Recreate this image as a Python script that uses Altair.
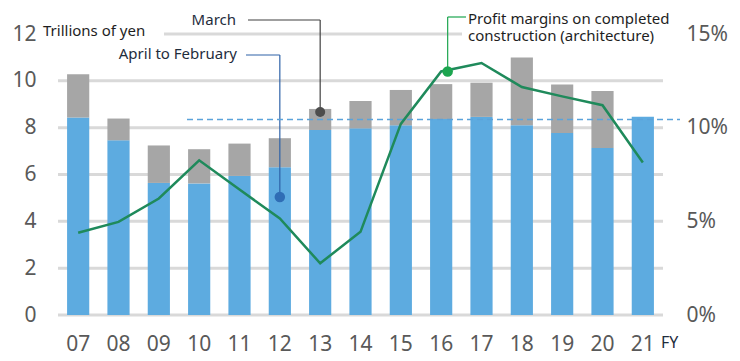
import altair as alt
import pandas as pd

# ---------------- data ----------------
fy = ["07", "08", "09", "10", "11", "12", "13", "14", "15", "16", "17", "18", "19", "20", "21"]
apr_feb = [8.43, 7.46, 5.64, 5.62, 5.94, 6.31, 7.90, 7.97, 8.10, 8.37, 8.46, 8.10, 7.77, 7.13, 8.47]
march = [1.85, 0.93, 1.60, 1.46, 1.38, 1.24, 0.90, 1.17, 1.51, 1.49, 1.46, 2.90, 2.07, 2.44, 0.0]
margin = [4.39, 4.97, 6.22, 8.26, 6.70, 5.15, 2.76, 4.44, 10.2, 13.0, 13.45, 12.17, 11.67, 11.2, 8.14]
left_ticks = [0, 2, 4, 6, 8, 10, 12]
right_ticks = [0, 5, 10, 15]
ref_margin = 10.43
parts = ["April to February", "March"]

# annotation anchors
march_anchor = {"fy": ["13"], "v": [8.67]}
aprfeb_anchor = {"fy": ["12"], "v": [5.04]}
margin_anchor = {"fy": ["16"], "v": [13.0]}

BLUE = "#5DABE0"
GRAY = "#A6A6A6"
GREEN_LINE = "#1F8A5B"
GREEN_DOT = "#1CA54F"
GRID = "#D9D9D9"
LBL = "#595959"
FONT = "Noto Sans"

rows = []
for i, f in enumerate(fy):
    rows.append({"fy": f, "part": parts[0], "value": apr_feb[i], "ord": 0})
    rows.append({"fy": f, "part": parts[1], "value": march[i], "ord": 1})
bars_df = pd.DataFrame(rows)
line_df = pd.DataFrame({"fy": fy, "margin": margin})

x_scale = alt.Scale(paddingInner=0.45, paddingOuter=0.225)
x_axis = alt.Axis(title=None, labelAngle=0, domain=False, ticks=False, grid=False,
                  labelFontSize=21, labelColor=LBL, labelPadding=18, labelFont=FONT)


def xenc():
    return alt.X("fy:N", sort=fy, scale=x_scale, axis=x_axis)


left_scale = alt.Scale(domain=[0, 12], nice=False)
left_axis = alt.Axis(title=None, values=left_ticks, domain=False, ticks=False, grid=False,
                     labelFontSize=21, labelColor=LBL, labelPadding=22, labelFont=FONT)
right_scale = alt.Scale(domain=[0, 15], nice=False)
right_axis = alt.Axis(title=None, orient="right", values=right_ticks, labelExpr="datum.value + '%'",
                      domain=False, ticks=False, grid=False,
                      labelFontSize=21, labelColor=LBL, labelPadding=23, labelFont=FONT)


def yl(field):
    return alt.Y(field, scale=left_scale, axis=left_axis)


def yr(field):
    return alt.Y(field, scale=right_scale, axis=right_axis)


# ---------------- left-scale layers ----------------
grid = alt.Chart(pd.DataFrame({"v": left_ticks[:-1]})).mark_rule(color=GRID, strokeWidth=3).encode(
    y=yl("v:Q"), x=alt.value(0), x2=alt.value(605))
grid12 = alt.Chart(pd.DataFrame({"v": left_ticks[-1:]})).mark_rule(color=GRID, strokeWidth=3).encode(
    y=yl("v:Q"), x=alt.value(106), x2=alt.value(404))

bars = alt.Chart(bars_df).mark_bar().encode(
    x=xenc(),
    y=alt.Y("value:Q", stack="zero", scale=left_scale, axis=left_axis),
    color=alt.Color("part:N", scale=alt.Scale(domain=parts, range=[BLUE, GRAY]), legend=None),
    order=alt.Order("ord:Q"),
)

march_df = pd.DataFrame(march_anchor)
march_v = alt.Chart(march_df).mark_rule(color="#404040", strokeWidth=1.2).encode(
    x=xenc(), y=yl("v:Q"), y2=alt.value(-14))
march_h = alt.Chart(march_df).mark_rule(color="#404040", strokeWidth=1.2).encode(
    x=xenc(), x2=alt.value(190), y=alt.value(-14))
march_dot = alt.Chart(march_df).mark_circle(color="#4D4D4D", size=100, opacity=1).encode(
    x=xenc(), y=yl("v:Q"))

af_df = pd.DataFrame(aprfeb_anchor)
af_v = alt.Chart(af_df).mark_rule(color="#2E62A8", strokeWidth=1.2).encode(
    x=xenc(), y=yl("v:Q"), y2=alt.value(21))
af_h = alt.Chart(af_df).mark_rule(color="#2E62A8", strokeWidth=1.2).encode(
    x=xenc(), x2=alt.value(188), y=alt.value(21))
af_dot = alt.Chart(af_df).mark_circle(color="#2F6DB5", size=110, opacity=1).encode(
    x=xenc(), y=yl("v:Q"))


def label(text, x, y, align="left", size=15, color="#1E1E1E", **kw):
    return alt.Chart(pd.DataFrame({"t": [text]})).mark_text(
        align=align, baseline="middle", fontSize=size, font=FONT, color=color, **kw
    ).encode(text="t:N", x=alt.value(x), y=alt.value(y))


t_unit = label("Trillions of yen", -15, -3)
t_march = label("March", 178, -14, align="right", color="#1F2D3D")
t_af = label("April to February", 179, 20, align="right", color="#1F2D3D")
t_fy = label("FY", 603, 309, size=16, color="#1F2D3D")
t_margin = label("Profit margins on completed\nconstruction (architecture)", 410, -15,
                 color="#1E1E1E", lineBreak="\n", lineHeight=16.5)

left = alt.layer(grid, grid12, bars, march_v, march_h, af_v, af_h, march_dot, af_dot,
                 t_unit, t_march, t_af, t_fy, t_margin)

# ---------------- right-scale layers ----------------
ref = alt.Chart(pd.DataFrame({"v": [ref_margin]})).mark_rule(
    color="#5BA3DA", strokeWidth=1.5, strokeDash=[6, 4]).encode(
    y=yr("v:Q"), x=alt.value(129), x2=alt.value(622))

line = alt.Chart(line_df).mark_line(color=GREEN_LINE, strokeWidth=2.5).encode(
    x=xenc(), y=yr("margin:Q"))

m_df = pd.DataFrame(margin_anchor)
m_v = alt.Chart(m_df).mark_rule(color=GREEN_DOT, strokeWidth=1.2, xOffset=6.5).encode(
    x=xenc(), y=yr("v:Q"), y2=alt.value(-17))
m_h = alt.Chart(m_df).mark_rule(color=GREEN_DOT, strokeWidth=1.2, xOffset=6.5).encode(
    x=xenc(), x2=alt.value(408), y=alt.value(-17))
m_dot = alt.Chart(m_df).mark_circle(color=GREEN_DOT, size=110, opacity=1, xOffset=6.5).encode(
    x=xenc(), y=yr("v:Q"))

right = alt.layer(ref, line, m_v, m_h, m_dot)

chart = alt.layer(left, right).resolve_scale(y="independent").properties(
    width=605, height=281,
    autosize=alt.AutoSizeParams(type="none"),
    padding={"left": 50, "top": 26, "right": 69, "bottom": 44},
).configure_view(stroke=None)

chart.save("out.html", embed_options={"renderer": "svg", "actions": False})
